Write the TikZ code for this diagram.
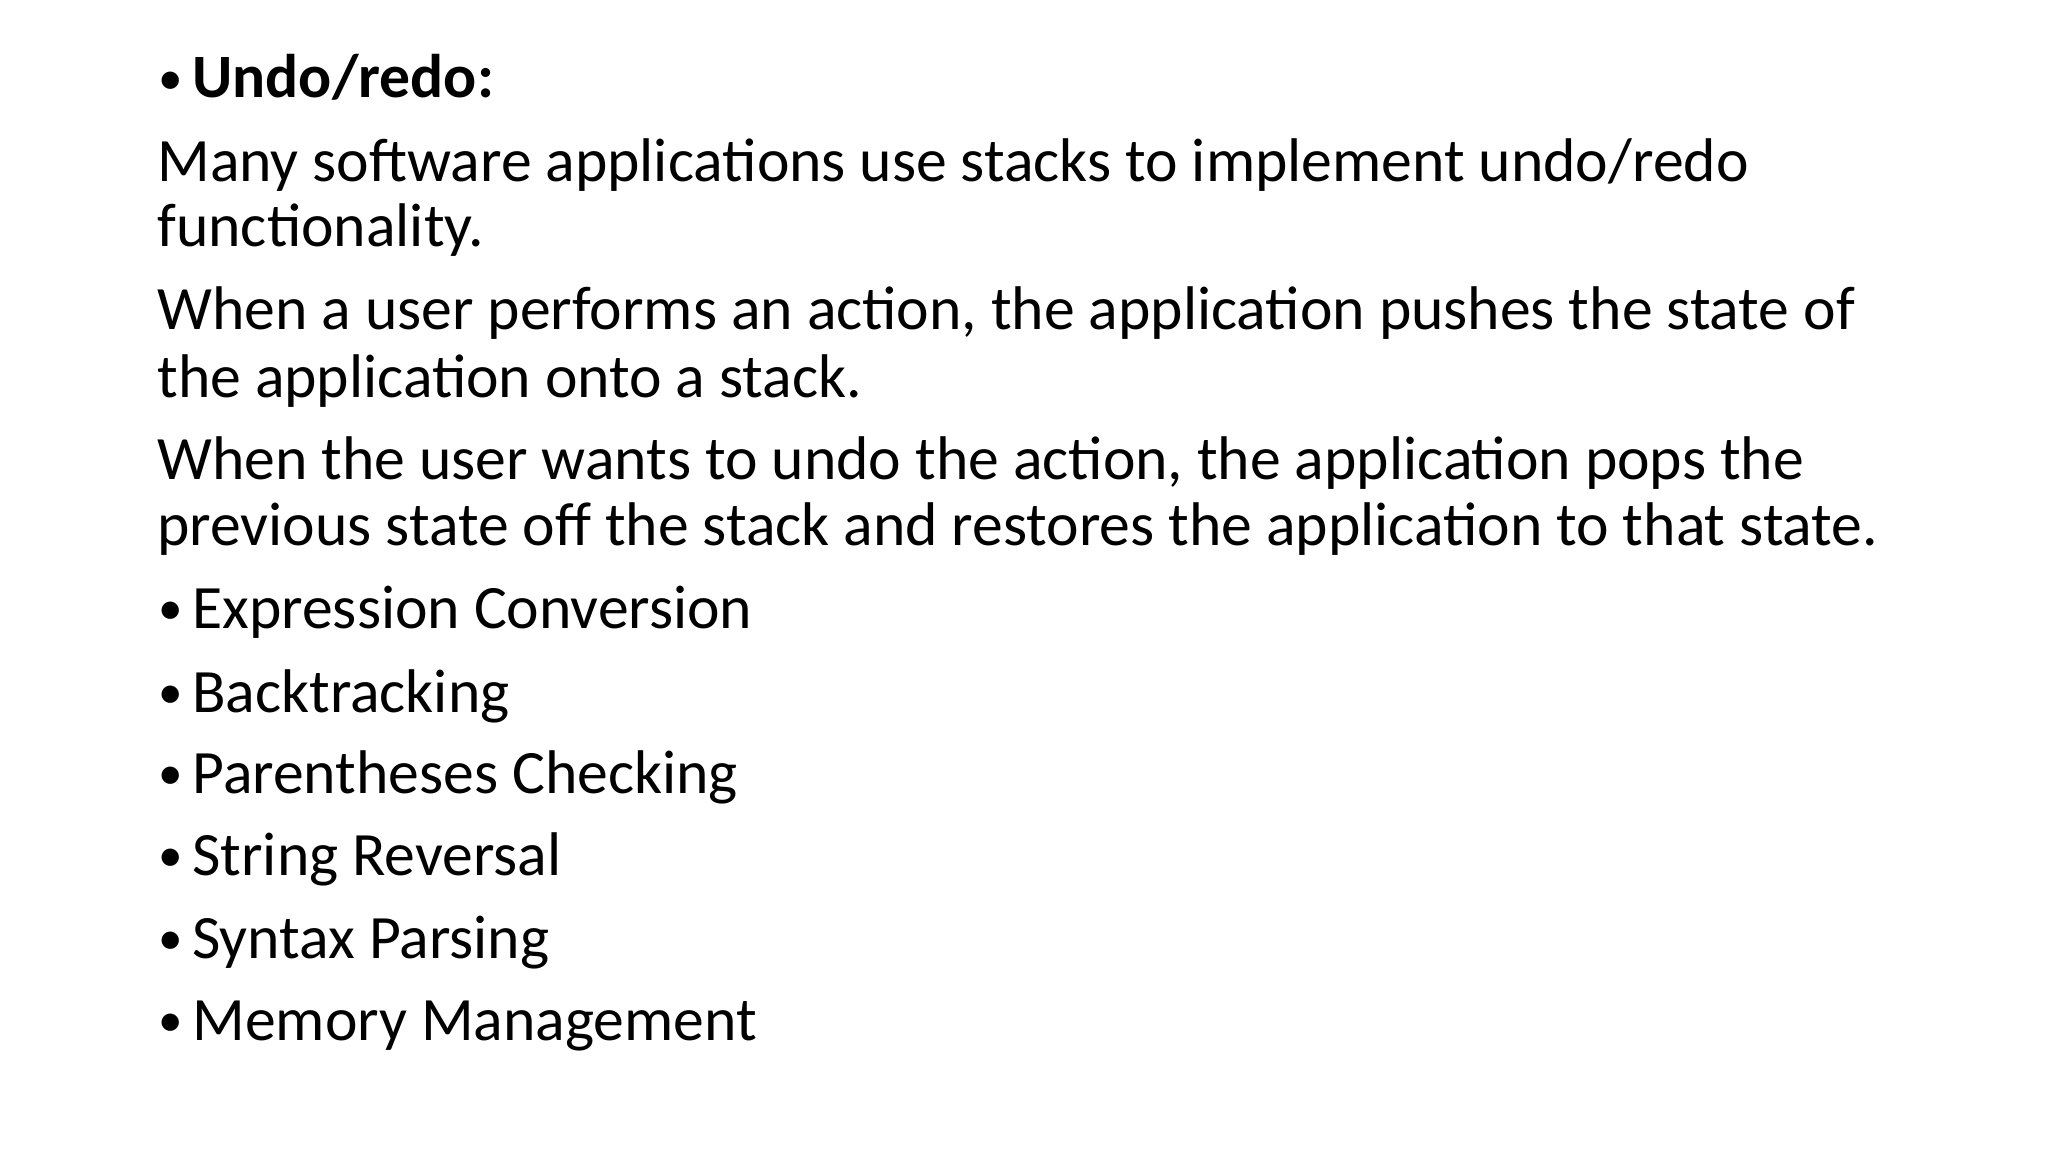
\documentclass[tikz,border=0pt]{standalone}
\usepackage{fontspec}
\setmainfont{Carlito}
\usepackage{tikz}
\tikzset
{
    textline/.style = {anchor=base west, inner sep=0pt, font=\fontsize{28.9}{32}\selectfont},
    bulletmark/.style = {anchor=base west, inner sep=0pt, font=\fontsize{23}{32}\selectfont, yshift=1.5pt}
}

\begin{document}
\begin{tikzpicture}[x=0.46875pt, y=-0.46875pt]
\useasboundingbox (0,0) rectangle (2048,1152);
\node [bulletmark] at (158,98) (b0) {•};
\node [textline] at (192,98) (undo) {\textbf{Undo/redo:}};
\node [textline] at (157,182) (many1) {Many software applications use stacks to implement undo/redo};
\node [textline] at (157,247) (many2) {functionality.};
\node [textline] at (157,330) (push1) {When a user performs an action, the application pushes the state of};
\node [textline] at (157,397) (push2) {the application onto a stack.};
\node [textline] at (157,479) (pop1) {When the user wants to undo the action, the application pops the};
\node [textline] at (157,545) (pop2) {previous state off the stack and restores the application to that state.};
\node [bulletmark] at (158,628) (b1) {•};
\node [textline] at (192,628) (expr) {Expression Conversion};
\node [bulletmark] at (158,712) (b2) {•};
\node [textline] at (192,712) (back) {Backtracking};
\node [bulletmark] at (158,793) (b3) {•};
\node [textline] at (192,793) (paren) {Parentheses Checking};
\node [bulletmark] at (158,875) (b4) {•};
\node [textline] at (192,875) (rev) {String Reversal};
\node [bulletmark] at (158,958) (b5) {•};
\node [textline] at (192,958) (syntax) {Syntax Parsing};
\node [bulletmark] at (158,1040) (b6) {•};
\node [textline] at (192,1040) (mem) {Memory Management};
\end{tikzpicture}
\end{document}
